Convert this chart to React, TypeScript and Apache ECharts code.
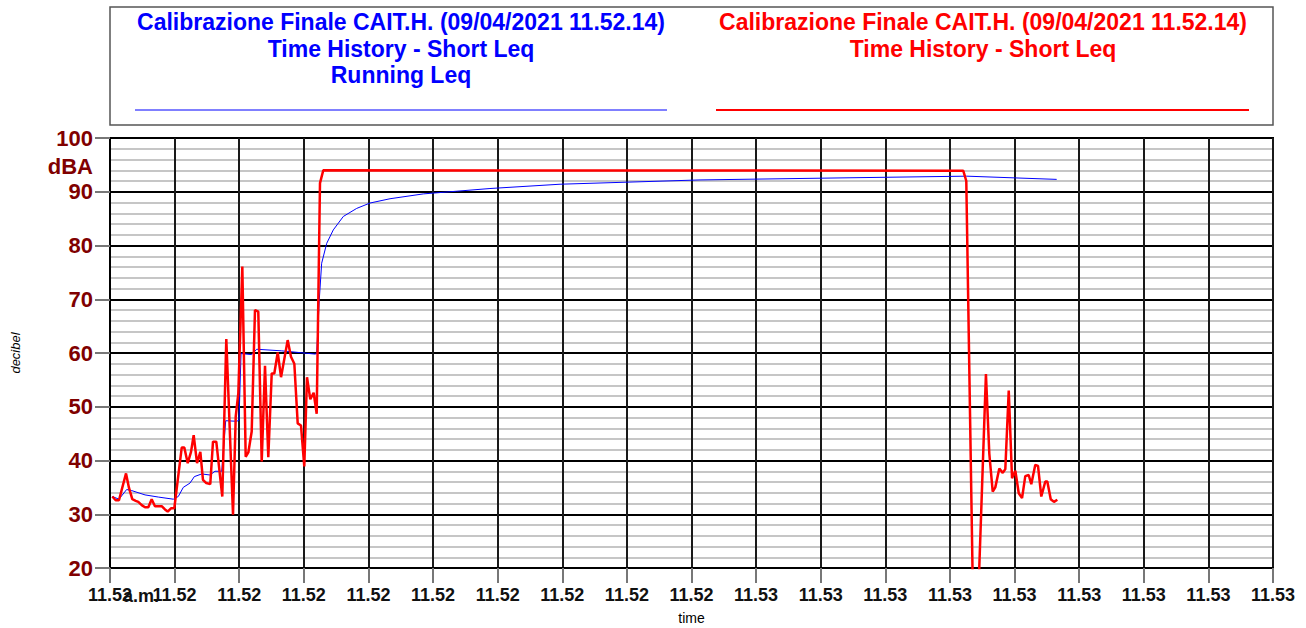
import React, { useEffect, useRef } from "react";
import * as echarts from "echarts";

// x positions in grid-interval units (0..18), values in dBA
const shortLeqX = [
  0.036, 0.088, 0.139, 0.248, 0.294, 0.345, 0.398, 0.438, 0.491, 0.542, 0.593, 0.645, 0.696, 0.748, 0.8, 0.851,
  0.893, 0.944, 0.995, 1.11, 1.15, 1.203, 1.254, 1.295, 1.347, 1.398, 1.439, 1.49, 1.552, 1.594, 1.645, 1.738,
  1.8, 1.904, 1.946, 1.986, 2.048, 2.1, 2.141, 2.193, 2.244, 2.295, 2.348, 2.399, 2.45, 2.503, 2.543, 2.596,
  2.647, 2.75, 2.801, 2.853, 2.905, 2.956, 3.007, 3.049, 3.1, 3.152, 3.199, 3.25, 3.301, 13.207, 13.253, 13.369,
  13.411, 13.557, 13.609, 13.662, 13.702, 13.764, 13.817, 13.857, 13.91, 13.961, 14.012, 14.065, 14.116, 14.166,
  14.219, 14.259, 14.321, 14.363, 14.414, 14.476, 14.507, 14.56, 14.61, 14.662,
];
const shortLeqY = [
  33.3, 32.6, 32.6, 37.6, 34.9, 32.8, 32.5, 32.3, 31.7, 31.3, 31.3, 32.8, 31.5, 31.5, 31.5, 30.9,
  30.5, 31.1, 31.1, 42.4, 42.4, 39.5, 41.6, 44.7, 39.5, 41.6, 36.4, 35.8, 35.6, 43.5, 43.5, 33.3,
  62.6, 29.9, 48.2, 52.5, 76.1, 40.7, 41.5, 45.4, 68.0, 67.7, 39.8, 57.6, 40.6, 56.2, 56.2, 60.1,
  55.5, 62.4, 59.3, 58.0, 46.9, 46.5, 38.9, 55.5, 51.4, 52.6, 48.7, 91.6, 94.0, 93.9, 92.0, 5.0,
  5.0, 56.1, 41.3, 34.2, 35.0, 38.5, 37.7, 38.4, 53.0, 36.7, 38.1, 33.9, 33.0, 37.1,
  37.3, 35.6, 39.2, 39.0, 33.3, 36.1, 36.1, 32.8, 32.3, 32.7,
];
const runningLeqX = [
  0.036, 0.139, 0.258, 0.336, 0.542, 0.748, 0.98, 1.057, 1.134, 1.238, 1.305, 1.419, 1.548, 1.625, 1.729, 1.791,
  1.961, 1.997, 2.028, 2.193, 2.271, 2.657, 3.173, 3.199, 3.239, 3.276, 3.354, 3.456, 3.611, 3.818, 4.024, 4.334,
  4.849, 5.366, 5.881, 6.965, 9.132, 11.453, 13.259, 14.652,
];
const runningLeqY = [
  33.3, 32.8, 34.6, 34.4, 33.6, 33.2, 32.8, 33.3, 35.0, 35.8, 37.0, 37.5, 37.3, 38.0, 38.0, 47.4,
  47.3, 47.5, 59.9, 59.7, 60.7, 60.4, 59.8, 59.9, 69.9, 76.7, 80.4, 82.9, 85.4, 86.9, 87.9, 88.7,
  89.6, 90.1, 90.6, 91.4, 92.2, 92.6, 92.9, 92.3,
];
const xTickLabels = [
  "11.52", "11.52", "11.52", "11.52", "11.52", "11.52", "11.52", "11.52", "11.52", "11.52",
  "11.53", "11.53", "11.53", "11.53", "11.53", "11.53", "11.53", "11.53", "11.53",
];
const legendBlue = ["Calibrazione Finale CAIT.H. (09/04/2021 11.52.14)", "Time History - Short Leq", "Running Leq"];
const legendRed = ["Calibrazione Finale CAIT.H. (09/04/2021 11.52.14)", "Time History - Short Leq"];

const FONT = "'Liberation Sans', Arial, sans-serif";

export default function App() {
  const ref = useRef<HTMLDivElement>(null);
  useEffect(() => {
    if (!ref.current) return;
    const chart = echarts.init(ref.current, null, { renderer: "svg" });
    const red = shortLeqX.map((x, i) => [x, shortLeqY[i]]);
    const blue = runningLeqX.map((x, i) => [x, runningLeqY[i]]);
    const legendTexts: any[] = [];
    legendBlue.forEach((t, i) =>
      legendTexts.push({
        type: "text",
        x: 401,
        y: 22 + i * 26.5,
        style: { text: t, fill: "#0000ff", font: `bold 23px ${FONT}`, textAlign: "center", textVerticalAlign: "middle" },
      })
    );
    legendRed.forEach((t, i) =>
      legendTexts.push({
        type: "text",
        x: 983,
        y: 22 + i * 26.5,
        style: { text: t, fill: "#ff0000", font: `bold 23px ${FONT}`, textAlign: "center", textVerticalAlign: "middle" },
      })
    );
    chart.setOption({
      animation: false,
      backgroundColor: "#ffffff",
      textStyle: { fontFamily: FONT },
      grid: {
        left: 110,
        right: 33,
        top: 138,
        bottom: 60,
        containLabel: false,
        outerBoundsMode: "none",
        show: true,
        borderColor: "#000",
        borderWidth: 2,
        backgroundColor: "transparent",
      },
      xAxis: {
        type: "value",
        min: 0,
        max: 18,
        interval: 1,
        name: "time",
        nameLocation: "middle",
        nameGap: 43,
        nameTextStyle: { fontSize: 14, color: "#000", fontFamily: FONT },
        axisLine: { show: true, lineStyle: { color: "#000", width: 2 } },
        axisTick: { show: true, length: 15, lineStyle: { color: "#777", width: 2 } },
        axisLabel: {
          margin: 18,
          fontSize: 18,
          fontWeight: "bold",
          color: "#111",
          fontFamily: FONT,
          formatter: (v: number) => xTickLabels[Math.round(v)] ?? "",
        },
        splitLine: { show: true, lineStyle: { color: "#1a1a1a", width: 2 } },
      },
      yAxis: {
        type: "value",
        min: 20,
        max: 100,
        interval: 10,
        name: "decibel",
        nameLocation: "middle",
        nameGap: 88,
        nameRotate: 90,
        nameTextStyle: { fontSize: 13, fontStyle: "italic", color: "#000", fontFamily: FONT },
        axisLine: { show: true, lineStyle: { color: "#000", width: 2 } },
        axisTick: { show: true, length: 15, lineStyle: { color: "#777", width: 2 } },
        axisLabel: { margin: 17, fontSize: 22, fontWeight: "bold", color: "#800000", fontFamily: FONT },
        splitLine: { show: true, lineStyle: { color: "#000", width: 2 } },
        minorTick: { show: false, splitNumber: 5 },
        minorSplitLine: { show: true, lineStyle: { color: "#c6c6c6", width: 2 } },
      },
      series: [
        {
          type: "line",
          name: "Running Leq",
          data: blue,
          showSymbol: false,
          clip: true,
          lineStyle: { color: "#0000ff", width: 1 },
          z: 3,
        },
        {
          type: "line",
          name: "Short Leq",
          data: red,
          showSymbol: false,
          clip: true,
          lineStyle: { color: "#ff0000", width: 2.5 },
          z: 4,
        },
      ],
      graphic: [
        {
          type: "rect",
          shape: { x: 110, y: 7, width: 1163, height: 118 },
          style: { fill: "#fff", stroke: "#555", lineWidth: 1.5 },
        },
        ...legendTexts,
        {
          type: "line",
          shape: { x1: 135, y1: 110, x2: 667, y2: 110 },
          style: { stroke: "#0000ff", lineWidth: 1 },
        },
        {
          type: "line",
          shape: { x1: 716, y1: 110, x2: 1249, y2: 110 },
          style: { stroke: "#ff0000", lineWidth: 2 },
        },
        {
          type: "text",
          x: 93,
          y: 166,
          style: { text: "dBA", fill: "#800000", font: `bold 22px ${FONT}`, textAlign: "right", textVerticalAlign: "middle" },
        },
        {
          type: "text",
          x: 141,
          y: 596,
          style: { text: "a.m.", fill: "#111", font: `bold 18px ${FONT}`, textAlign: "center", textVerticalAlign: "middle" },
        },
      ],
    });
    return () => chart.dispose();
  }, []);
  return <div ref={ref} style={{ width: 1306, height: 628, position: "absolute", left: 0, top: 0 }} />;
}
